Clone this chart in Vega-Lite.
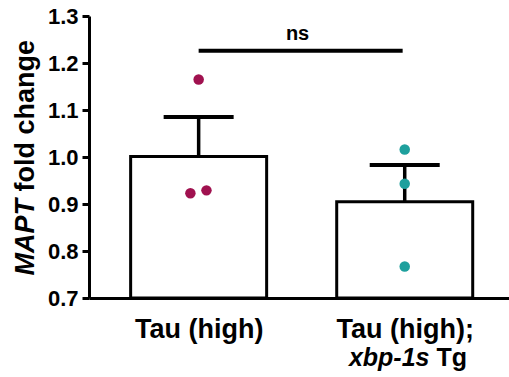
{
  "$schema": "https://vega.github.io/schema/vega-lite/v6.json",
  "width": 420,
  "height": 282,
  "autosize": {"type": "none"},
  "padding": {"left": 89, "top": 16, "right": 0, "bottom": 79},
  "config": {"view": {"stroke": null}, "font": "Liberation Sans"},
  "datasets": {
    "bars": [
      {"group": "Tau (high)", "pos": 1, "mean": 1.001, "upper": 1.085},
      {"group": "Tau (high); xbp-1s Tg", "pos": 2, "mean": 0.905, "upper": 0.983}
    ],
    "points": [
      {"group": "Tau (high)", "pos": 1.0, "value": 1.165},
      {"group": "Tau (high)", "pos": 0.96, "value": 0.923},
      {"group": "Tau (high)", "pos": 1.038, "value": 0.929},
      {"group": "Tau (high); xbp-1s Tg", "pos": 2.0, "value": 1.016},
      {"group": "Tau (high); xbp-1s Tg", "pos": 2.0, "value": 0.943},
      {"group": "Tau (high); xbp-1s Tg", "pos": 2.0, "value": 0.767}
    ],
    "comparison": [
      {"from": 1, "to": 1.99, "label": "ns"}
    ]
  },
  "resolve": {"axis": {"x": "independent", "y": "independent"}},
  "layer": [
    {
      "data": {"name": "bars"},
      "mark": {"type": "bar", "width": 136, "fill": "white", "stroke": "black", "strokeWidth": 3},
      "encoding": {
        "x": {
          "field": "pos", "type": "quantitative",
          "scale": {"domain": [0.4922, 2.4818], "nice": false, "zero": false},
          "axis": {
            "orient": "bottom", "values": [1, 2],
            "labelExpr": "datum.value == 1 ? 'Tau (high)' : 'Tau (high);'",
            "ticks": false, "tickSize": 0, "grid": false,
            "domain": true, "domainColor": "black", "domainWidth": 3,
            "labelFontWeight": "bold", "labelFontSize": 27, "labelColor": "black",
            "labelPadding": 39, "labelBaseline": "alphabetic", "labelAlign": "center",
            "labelFlush": false, "labelOverlap": false, "title": null
          }
        },
        "y": {
          "field": "mean", "type": "quantitative",
          "scale": {"domain": [0.7, 1.3], "nice": false, "zero": false},
          "axis": {
            "orient": "left", "values": [0.7, 0.8, 0.9, 1.0, 1.1, 1.2, 1.3], "format": ".1f",
            "grid": false, "domainColor": "black", "domainWidth": 3,
            "tickColor": "black", "tickWidth": 3, "tickSize": 7,
            "labelFontSize": 22, "labelFontWeight": "bold", "labelColor": "black",
            "labelPadding": 4, "labelFlush": false, "labelOverlap": false,
            "title": "fold change", "titleFontSize": 27, "titleFontWeight": "bold", "titleColor": "black",
            "titleAngle": -90, "titleAlign": "left", "titleBaseline": "alphabetic",
            "titleX": -56, "titleY": 175
          }
        },
        "y2": {"datum": 0.7}
      }
    },
    {
      "data": {"name": "bars"},
      "mark": {"type": "rule", "strokeWidth": 3.5, "color": "black"},
      "encoding": {
        "x": {
          "field": "pos", "type": "quantitative",
          "axis": {
            "orient": "bottom", "values": [2], "labelExpr": "'xbp-1s'",
            "domain": false, "ticks": false, "tickSize": 0, "grid": false,
            "labelFontStyle": "italic", "labelFontWeight": "bold", "labelFontSize": 25, "labelColor": "black",
            "labelAlign": "right", "labelOffset": 24.3, "labelPadding": 67, "labelBaseline": "alphabetic",
            "labelFlush": false, "labelOverlap": false, "title": null
          }
        },
        "y": {
          "field": "mean", "type": "quantitative",
          "axis": {
            "orient": "left", "domain": false, "ticks": false, "labels": false, "grid": false,
            "title": "MAPT", "titleFontStyle": "italic", "titleFontSize": 27, "titleFontWeight": "bold", "titleColor": "black",
            "titleAngle": -90, "titleAlign": "left", "titleBaseline": "alphabetic",
            "titleX": -56, "titleY": 259
          }
        },
        "y2": {"field": "upper"}
      }
    },
    {
      "data": {"name": "bars"},
      "mark": {"type": "tick", "orient": "horizontal", "size": 70, "thickness": 4, "color": "black", "opacity": 1},
      "encoding": {
        "x": {
          "field": "pos", "type": "quantitative",
          "axis": {
            "orient": "bottom", "values": [2], "labelExpr": "'Tg'",
            "domain": false, "ticks": false, "tickSize": 0, "grid": false,
            "labelFontWeight": "bold", "labelFontSize": 25, "labelColor": "black",
            "labelAlign": "left", "labelOffset": 31.2, "labelPadding": 67, "labelBaseline": "alphabetic",
            "labelFlush": false, "labelOverlap": false, "title": null
          }
        },
        "y": {"field": "upper", "type": "quantitative", "axis": null}
      }
    },
    {
      "data": {"name": "points"},
      "mark": {"type": "circle", "size": 110, "opacity": 1},
      "encoding": {
        "x": {"field": "pos", "type": "quantitative", "axis": null},
        "y": {"field": "value", "type": "quantitative", "axis": null},
        "color": {
          "field": "group", "type": "nominal",
          "scale": {"domain": ["Tau (high)", "Tau (high); xbp-1s Tg"], "range": ["#A0114F", "#1EA09D"]},
          "legend": null
        }
      }
    },
    {
      "data": {"name": "comparison"},
      "mark": {"type": "rule", "strokeWidth": 4, "color": "black"},
      "encoding": {
        "x": {"field": "from", "type": "quantitative", "axis": null},
        "x2": {"field": "to"},
        "y": {"datum": 1.226, "type": "quantitative", "axis": null}
      }
    },
    {
      "data": {"name": "comparison"},
      "mark": {"type": "text", "fontSize": 20, "fontWeight": "bold", "color": "black", "baseline": "alphabetic", "align": "center"},
      "encoding": {
        "x": {"datum": 1.48, "type": "quantitative", "axis": null},
        "y": {"datum": 1.248, "type": "quantitative", "axis": null},
        "text": {"field": "label"}
      }
    }
  ]
}
